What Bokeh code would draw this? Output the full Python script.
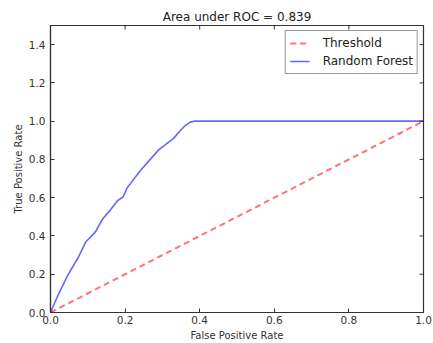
import math
from bokeh.plotting import figure
from bokeh.models import Range1d, FixedTicker, Legend, LegendItem, PrintfTickFormatter
from bokeh.embed import file_html
from bokeh.resources import INLINE

title_text = "Area under ROC = 0.839"
thr_x = [0.0, 1.0]
thr_y = [0.0, 1.0]
fpr = [0.0, 0.02, 0.045, 0.075, 0.095, 0.12, 0.14, 0.16, 0.18, 0.195, 0.205,
       0.24, 0.265, 0.29, 0.31, 0.33, 0.345, 0.36, 0.375, 0.385, 1.0]
tpr = [0.0, 0.09, 0.19, 0.29, 0.37, 0.42, 0.49, 0.535, 0.585, 0.605, 0.65,
       0.74, 0.795, 0.85, 0.88, 0.91, 0.945, 0.975, 0.995, 1.0, 1.0]
x_ticks = [0.0, 0.2, 0.4, 0.6, 0.8, 1.0]
y_ticks = [0.0, 0.2, 0.4, 0.6, 0.8, 1.0, 1.2, 1.4]
x_max = 1.0
y_max = 1.5

FONT = "DejaVu Sans"
EDGE = "#333333"

p = figure(width=433, height=343, output_backend="svg", toolbar_location=None,
           x_range=Range1d(0, x_max), y_range=Range1d(0, y_max),
           x_axis_label="False Positive Rate", y_axis_label="True Positive Rate",
           min_border_left=50, min_border_right=10, min_border_top=25, min_border_bottom=31)

p.title.text = title_text
p.title.align = "center"
p.title.text_font = FONT
p.title.text_font_size = "12px"
p.title.text_font_style = "normal"
p.title.text_color = "#222222"
p.title.standoff = 3

p.grid.visible = False
p.outline_line_color = EDGE
p.outline_line_width = 1.2
p.background_fill_color = "white"
p.border_fill_color = "white"

for ax, ticks in ((p.xaxis[0], x_ticks), (p.yaxis[0], y_ticks)):
    ax.ticker = FixedTicker(ticks=ticks)
    ax.formatter = PrintfTickFormatter(format="%.1f")
    ax.major_tick_in = 4
    ax.major_tick_out = 0
    ax.minor_tick_in = 0
    ax.minor_tick_out = 0
    ax.major_tick_line_color = EDGE
    ax.axis_line_color = EDGE
    ax.axis_line_width = 1.2
    ax.major_label_text_font = FONT
    ax.major_label_text_font_size = "10.5px"
    ax.major_label_text_color = "#333333"
    ax.axis_label_text_font = FONT
    ax.axis_label_text_font_size = "10px"
    ax.axis_label_text_font_style = "normal"
    ax.axis_label_text_color = "#333333"
p.xaxis[0].major_label_standoff = 3
p.xaxis[0].axis_label_standoff = 3
p.yaxis[0].major_label_standoff = 5
p.yaxis[0].axis_label_standoff = 2

# inward tick marks on the top and right edges (matplotlib classic style)
p.scatter(x_ticks, [y_max] * len(x_ticks), marker="dash", angle=math.pi / 2,
          size=8, line_color=EDGE, line_width=1)
p.scatter([x_max] * len(y_ticks), y_ticks, marker="dash",
          size=8, line_color=EDGE, line_width=1)

r1 = p.line(thr_x, thr_y, line_color="red", line_alpha=0.55, line_width=2, line_dash="6 4")
r2 = p.line(fpr, tpr, line_color="blue", line_alpha=0.6, line_width=1.6)

legend = Legend(items=[LegendItem(label="Threshold", renderers=[r1]),
                       LegendItem(label="Random Forest", renderers=[r2])],
                location="top_right")
legend.margin = 5
legend.padding = 4
legend.spacing = 2
legend.glyph_width = 20
legend.glyph_height = 16
legend.label_height = 16
legend.label_standoff = 13
legend.label_text_font = FONT
legend.label_text_font_size = "12px"
legend.label_text_color = "#222222"
legend.border_line_color = EDGE
legend.border_line_width = 1.2
legend.background_fill_color = "white"
legend.background_fill_alpha = 1.0
p.add_layout(legend, "center")

open("out.html", "w").write(file_html(p, INLINE))
